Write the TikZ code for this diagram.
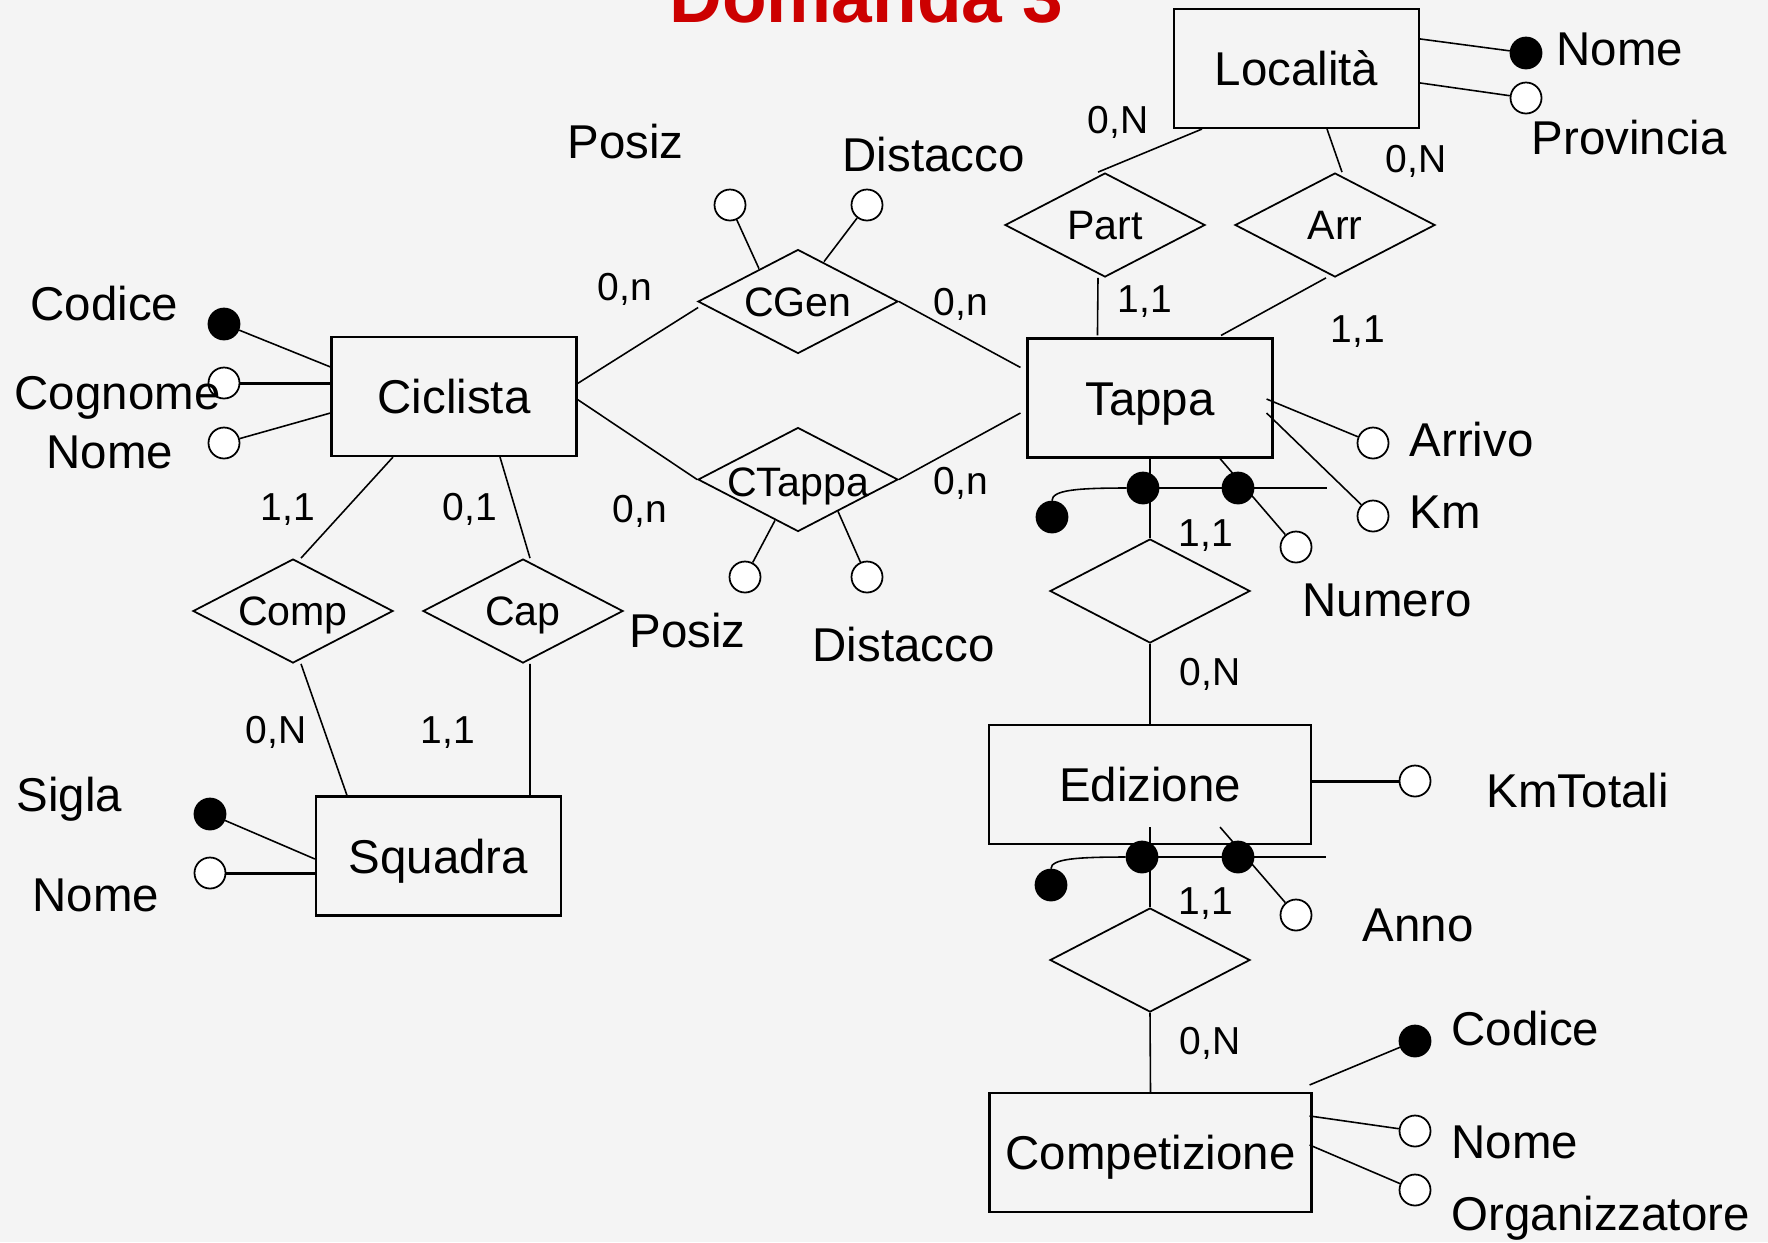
\documentclass[tikz,border=0pt]{standalone}
\usepackage{fontspec}
\setmainfont{Liberation Sans}
\usetikzlibrary{shapes.geometric,calc}
\definecolor{sfondo}{RGB}{244,244,244}
\definecolor{rossotitolo}{RGB}{204,0,0}
\tikzset{
	entita/.style={draw, line width=0.6pt, minimum width=24.5mm, minimum height=11.9mm, inner sep=0pt, font=\fontsize{13.5}{16}\selectfont, text height=9.7pt, text depth=0pt},
	entitagrande/.style={entita, minimum width=32.2mm},
	relazione/.style={draw, diamond, line width=0.5pt, minimum width=20mm, minimum height=10.4mm, inner sep=0pt},
	nomerel/.style={font=\fontsize{11.7}{14}\selectfont, inner sep=0pt, text height=8.4pt, text depth=0pt},
	card/.style={font=\fontsize{11.1}{13}\selectfont, inner sep=0pt, text height=7.9pt, text depth=0pt},
	attr/.style={circle, draw, line width=0.5pt, fill=white, minimum size=3.1mm, inner sep=0pt},
	attrid/.style={attr, fill=black},
	nomeattr/.style={font=\fontsize{13.5}{16}\selectfont, inner sep=0pt, anchor=base west},
	linea/.style={line width=0.45pt},
	lineaspessa/.style={line width=0.85pt}
}
\begin{document}
\begin{tikzpicture}[x=0.1mm,y=-0.1mm]

		\useasboundingbox (0,0) rectangle (1768,1242);
		\clip (0,0) rectangle (1768,1242);
		\fill[sfondo] (0,0) rectangle (1768,1242);
		\node[font=\fontsize{20.8}{24}\selectfont\bfseries, text=rossotitolo, inner sep=0pt, anchor=base] (titolo) at (866.5,22) {Domanda 3};

		\node[entita] (ciclista) at (454,396.5) {Ciclista};
		\node[entita] (localita) at (1296.5,68.5) {Località};
		\node[entita] (tappa) at (1150,398) {Tappa};
		\node[entita] (squadra) at (438.5,856) {Squadra};
		\node[entitagrande] (edizione) at (1150,784.5) {Edizione};
		\node[entitagrande] (competizione) at (1150.5,1152.5) {Competizione};

		\node[relazione] (comp) at (293,611) {};
		\node[relazione] (cap) at (523,611) {};
		\node[relazione] (cgen) at (798,301.5) {};
		\node[relazione] (ctappa) at (798,479.5) {};
		\node[relazione] (part) at (1105,225) {};
		\node[relazione] (arr) at (1335,225) {};
		\node[relazione] (idtappa) at (1150,591) {};
		\node[relazione] (idedizione) at (1150,960) {};
		\node[nomerel] (tcomp) at (comp) {Comp};
		\node[nomerel] (tcap) at (cap) {Cap};
		\node[nomerel] (tcgen) at (cgen) {CGen};
		\node[nomerel] (tctappa) at ($(ctappa)+(0,2)$) {CTappa};
		\node[nomerel] (tpart) at (part) {Part};
		\node[nomerel] (tarr) at (arr) {Arr};

		\draw[linea] ($(ciclista.east)+(0,-13)$) -- ($(cgen.west)+(1,6)$);
		\draw[linea] ($(ciclista.east)+(0,3)$) -- (ctappa.west);
		\draw[linea] (cgen.east) -- ($(tappa.north west)+(-6,30)$);
		\draw[linea] (ctappa.east) -- ($(tappa.west)+(-6,15)$);
		\draw[linea] ($(ciclista.south)+(-61,0)$) -- ($(comp.north)+(8,0)$);
		\draw[linea] ($(ciclista.south)+(46,0)$) -- ($(cap.north)+(7,0)$);
		\draw[linea] ($(comp.south)+(8,0)$) -- ($(squadra.north)+(-91.5,0)$);
		\draw[linea] ($(cap.south)+(7,0)$) -- ($(squadra.north)+(91.5,0)$);
		\draw[linea] ($(localita.south west)+(29,0)$) -- ($(part.north)+(-7,0)$);
		\draw[linea] ($(localita.south)+(30.5,0)$) -- ($(arr.north)+(7,0)$);
		\draw[linea] ($(part.south)+(-7,0)$) -- ($(tappa.north west)+(71,-2)$);
		\draw[linea] ($(arr.south)+(-9,0)$) -- ($(tappa.north)+(71,-2)$);
		\draw[linea] (tappa.south) -- (idtappa.north);
		\draw[linea] (idtappa.south) -- (edizione.north);
		\draw[linea] ($(edizione.south)+(0,-18)$) -- (idedizione.north);
		\draw[linea] (idedizione.south) -- (competizione.north);

		\node[card] (k1) at (625,287) {0,n};
		\node[card] (k2) at (640,509) {0,n};
		\node[card] (k3) at (288,507) {1,1};
		\node[card] (k4) at (470,507) {0,1};
		\node[card] (k5) at (276,730) {0,N};
		\node[card] (k6) at (448,730) {1,1};
		\node[card] (k7) at (961,302) {0,n};
		\node[card] (k8) at (961,481) {0,n};
		\node[card] (k9) at (1118,120) {0,N};
		\node[card] (k10) at (1416,159) {0,N};
		\node[card] (k11) at (1145,299) {1,1};
		\node[card] (k12) at (1358,329) {1,1};
		\node[card] (k13) at (1206,533) {1,1};
		\node[card] (k14) at (1210,672) {0,N};
		\node[card] (k15) at (1206,901) {1,1};
		\node[card] (k16) at (1210,1041) {0,N};

		\node[attrid] (cicCodice) at (224,324) {};
		\node[attr] (cicCognome) at (224,383) {};
		\node[attr] (cicNome) at (224,443) {};
		\draw[linea] (cicCodice) -- ($(ciclista.north west)+(0,31)$);
		\draw[lineaspessa] (cicCognome) -- ($(ciclista.west)+(0,-13.5)$);
		\draw[linea] (cicNome) -- ($(ciclista.west)+(0,16.5)$);
		\node[nomeattr] (lcicCodice) at (30,320) {Codice};
		\node[nomeattr] (lcicCognome) at (14,409) {Cognome};
		\node[nomeattr] (lcicNome) at (46,468) {Nome};

		\node[attr] (cgenPosiz) at (730,205) {};
		\node[attr] (cgenDistacco) at (867,205) {};
		\draw[linea] (cgenPosiz) -- ($(cgen.north)+(-39,20)$);
		\draw[linea] (cgenDistacco) -- ($(cgen.north)+(26,13)$);
		\node[nomeattr] (lcgenPosiz) at (567,158) {Posiz};
		\node[nomeattr] (lcgenDistacco) at (842,171) {Distacco};

		\node[attr] (ctappaPosiz) at (745,577) {};
		\node[attr] (ctappaDistacco) at (867,577) {};
		\draw[linea] (ctappaPosiz) -- ($(ctappa.south)+(-23,-12)$);
		\draw[linea] (ctappaDistacco) -- ($(ctappa.south)+(40,-21)$);
		\node[nomeattr] (lctappaPosiz) at (629,647) {Posiz};
		\node[nomeattr] (lctappaDistacco) at (812,661) {Distacco};

		\node[attrid] (squSigla) at (210,814) {};
		\node[attr] (squNome) at (210,873) {};
		\draw[linea] (squSigla) -- ($(squadra.west)+(0,3)$);
		\draw[lineaspessa] (squNome) -- ($(squadra.west)+(0,17)$);
		\node[nomeattr] (lsquSigla) at (16,811) {Sigla};
		\node[nomeattr] (lsquNome) at (32,911) {Nome};

		\node[attrid] (locNome) at (1526,53) {};
		\node[attr] (locProvincia) at (1526,98) {};
		\draw[linea] (locNome) -- ($(localita.north east)+(0,31)$);
		\draw[linea] (locProvincia) -- ($(localita.north east)+(0,75)$);
		\node[nomeattr] (llocNome) at (1556,65) {Nome};
		\node[nomeattr] (llocProvincia) at (1531,154) {Provincia};

		\node[attr] (tapArrivo) at (1373,443) {};
		\node[attr] (tapKm) at (1373,516) {};
		\node[attr] (tapNumero) at (1296,547) {};
		\draw[linea] (tapArrivo) -- ($(tappa.east)+(-7,1)$);
		\draw[linea] (tapKm) -- ($(tappa.east)+(-7,15)$);
		\draw[linea] ($(tappa.south)+(70,0)$) -- (tapNumero);
		\node[attrid] (tapIdA) at (1143,488) {};
		\node[attrid] (tapIdB) at (1238,488) {};
		\node[attrid] (tapIdC) at (1052,517) {};
		\coordinate (tapIdFine) at (1327,488);
		\draw[linea] (tapIdA.center) -- (tapIdFine);
		\draw[linea] (tapIdA.west) .. controls (1077,488) and (1052,490) .. (tapIdC.north);
		\node[nomeattr] (ltapArrivo) at (1409,456) {Arrivo};
		\node[nomeattr] (ltapKm) at (1409,528) {Km};
		\node[nomeattr] (ltapNumero) at (1302,616) {Numero};

		\node[attr] (ediKmTotali) at (1415,781) {};
		\node[attr] (ediAnno) at (1296,915) {};
		\draw[lineaspessa] (ediKmTotali) -- ($(edizione.east)+(0,-3.5)$);
		\draw[linea] ($(edizione.south)+(70,-18)$) -- (ediAnno);
		\node[attrid] (ediIdA) at (1142,857) {};
		\node[attrid] (ediIdB) at (1238,857) {};
		\node[attrid] (ediIdC) at (1051,885) {};
		\coordinate (ediIdFine) at (1326,857);
		\draw[linea] (ediIdA.center) -- (ediIdFine);
		\draw[linea] (ediIdA.west) .. controls (1076,857) and (1051,859) .. (ediIdC.north);
		\node[nomeattr] (lediKmTotali) at (1486,807) {KmTotali};
		\node[nomeattr] (lediAnno) at (1362,941) {Anno};

		\node[attrid] (comCodice) at (1415,1041) {};
		\node[attr] (comNome) at (1415,1131) {};
		\node[attr] (comOrganizzatore) at (1415,1190) {};
		\draw[linea] (comCodice) -- ($(competizione.north east)+(-3,-7)$);
		\draw[linea] (comNome) -- ($(competizione.north east)+(-3,24)$);
		\draw[linea] (comOrganizzatore) -- ($(competizione.north east)+(-3,53)$);
		\node[nomeattr] (lcomCodice) at (1451,1045) {Codice};
		\node[nomeattr] (lcomNome) at (1451,1158) {Nome};
		\node[nomeattr] (lcomOrganizzatore) at (1451,1230) {Organizzatore};
	\end{tikzpicture}
\end{document}
